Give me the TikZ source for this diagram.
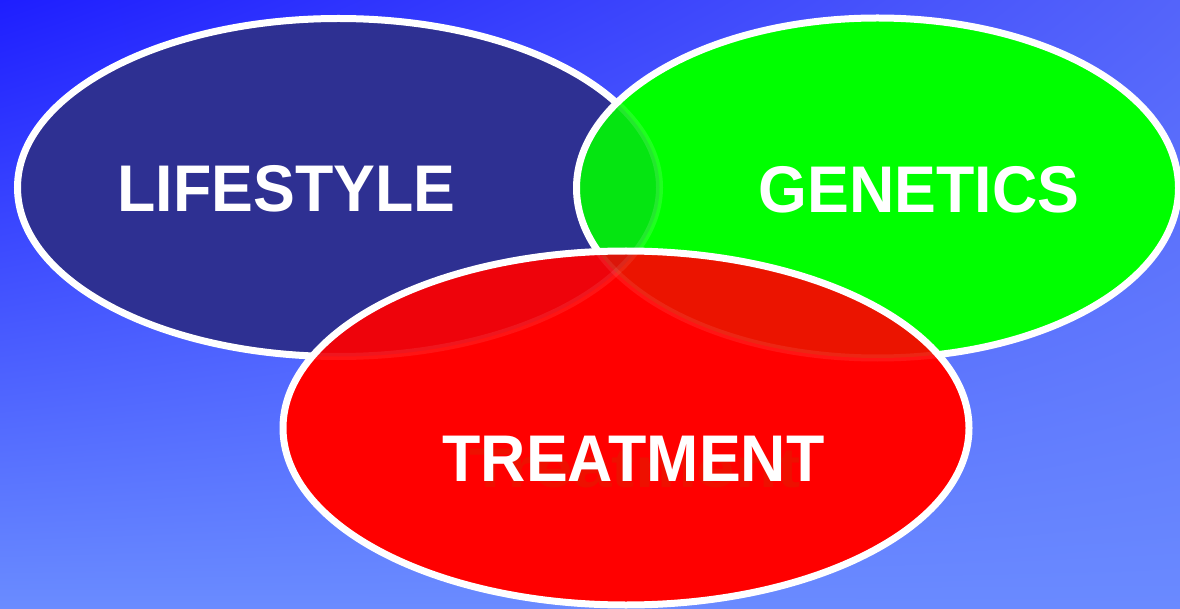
\documentclass[tikz,border=0pt]{standalone}
\usepackage{fontspec}
\setmainfont{Liberation Sans}
\usetikzlibrary{shapes.geometric,shadings}

% background corners
\definecolor{bgtl}{RGB}{30,30,255}
\definecolor{bgtr}{RGB}{84,100,250}
\definecolor{bgbl}{RGB}{106,140,255}
\definecolor{bgbr}{RGB}{106,138,255}
% set fills
\definecolor{lifeblue}{RGB}{46,48,146}
\definecolor{genegreen}{RGB}{0,255,0}
\definecolor{treatred}{RGB}{255,0,0}
\definecolor{ghostred}{RGB}{238,16,0}

% ellipse outlines of the three sets
\def\lifepath{(338.5,187.5) ellipse [x radius=321, y radius=169]}
\def\genepath{(877.5,188) ellipse [x radius=301, y radius=170]}
\def\treatpath{(626,428) ellipse [x radius=343, y radius=177]}

\begin{document}
\begin{tikzpicture}[x=1pt,y=-1pt,
  setshape/.style={ellipse, inner sep=0pt},
  rim/.style={draw=white, line width=7pt},
  seethrough/.style={opacity=#1, draw=white, line width=7pt},
  settext/.style={text=white, inner sep=0pt,
    font=\fontsize{66}{70}\selectfont\bfseries},
  ghosttext/.style={text=ghostred, inner sep=0pt,
    font=\fontsize{56}{60}\selectfont\bfseries}]

  \useasboundingbox (0,0) rectangle (1180,609);
  \shade[upper left=bgtl, upper right=bgtr, lower left=bgbl, lower right=bgbr]
    (0,0) rectangle (1180,609);

  % lifestyle
  \node[setshape, rim, fill=lifeblue, minimum width=642pt, minimum height=338pt]
    (life) at (338.5,187.5) {};

  % genetics, with the lifestyle set faintly showing through
  \node[setshape, fill=genegreen, minimum width=602pt, minimum height=340pt]
    (gene) at (877.5,188) {};
  \begin{scope}
    \clip \genepath;
    \path[seethrough=0.12, fill=lifeblue] \lifepath;
  \end{scope}
  \draw[rim] \genepath;

  % treatment, with both other sets faintly showing through
  \node[setshape, fill=treatred, minimum width=686pt, minimum height=354pt]
    (treat) at (626,428) {};
  \begin{scope}
    \clip \treatpath;
    \path[seethrough=0.08, fill=lifeblue] \lifepath;
    \path[seethrough=0.08, fill=genegreen] \genepath;
  \end{scope}
  \draw[rim] \treatpath;

  % labels
  \node[settext] (lifetext) at (286.5,189) {\scalebox{0.95}[1]{LIFESTYLE}};
  \node[settext] (genetext) at (919,190) {\scalebox{0.95}[1]{GENETICS}};
  \node[ghosttext, anchor=base] (treatghost) at (635,487)
    {\scalebox{1.24}[1]{Treatment}};
  \node[settext] (treattext) at (633.5,458.5) {\scalebox{0.95}[1]{TREATMENT}};
\end{tikzpicture}
\end{document}
